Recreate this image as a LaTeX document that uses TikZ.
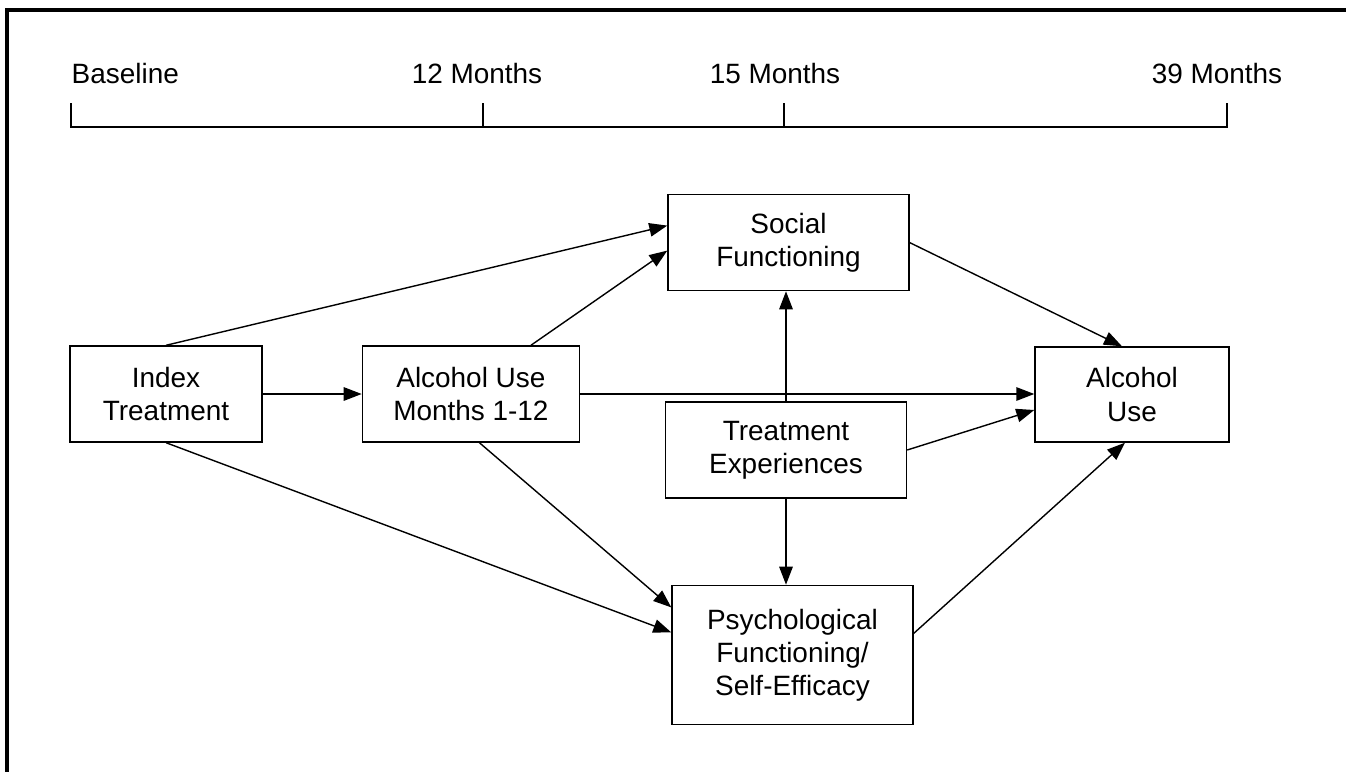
\documentclass[tikz,border=0pt]{standalone}
\usepackage{fontspec}
\setmainfont{Liberation Sans}
\usetikzlibrary{positioning,arrows.meta}

\begin{document}
\begin{tikzpicture}[->,>={Triangle[length=3.6mm,width=2.7mm]},line width=0.8pt,
    font=\fontsize{15.9}{18.8}\selectfont,
    box/.style={draw,rectangle,align=center,inner sep=0pt,minimum width=3.84cm,minimum height=1.92cm},
    wide box/.style={box,minimum width=4.82cm},
    time label/.style={anchor=base,inner sep=0pt}]

    \useasboundingbox (0,0) rectangle (26.92,-15.44);
    % frame, cut off at right and bottom
    \draw[-,line width=2.2pt] (0.14,-15.6) |- (27.1,-0.2);

    % time line
    \node[time label,anchor=base west] (base) at (1.42,-1.66) {Baseline};
    \node[time label] (m12) at (9.54,-1.66) {12 Months};
    \node[time label] (m15) at (15.5,-1.66) {15 Months};
    \node[time label] (m39) at (24.34,-1.66) {39 Months};
    \draw[-] (1.42,-2.06) |- (24.54,-2.54) -- (24.54,-2.06);
    \foreach \x in {9.66,15.68}
        \draw[-] (\x,-2.06) -- (\x,-2.54);

    % boxes
    \node[box] (index) at (3.32,-7.88) {Index\\Treatment};
    \node[box,minimum width=4.34cm] (alcm) [right=1.98cm of index] {Alcohol Use\\Months 1-12};
    \node[wide box] (treat) at (15.72,-9.0) {Treatment\\Experiences};
    \node[wide box] (social) [above=2.2cm of treat,xshift=0.05cm] {Social\\Functioning};
    \node[wide box,minimum height=2.78cm] (psych) [below=1.72cm of treat,xshift=0.13cm] {Psychological\\Functioning/\\Self-Efficacy};
    \node[box,minimum width=3.88cm,minimum height=1.9cm] (alcr) at (22.64,-7.89) {Alcohol\\Use};

    % paths
    \draw (index.east) -- (alcm.west);
    \draw (index.north) -- ([yshift=0.34cm]social.west);
    \draw (index.south) -- ([yshift=0.45cm]psych.west);
    \draw ([xshift=1.2cm]alcm.north) -- ([yshift=-0.16cm]social.west);
    \draw ([xshift=0.17cm]alcm.south) -- ([yshift=0.95cm]psych.west);
    \draw (alcm.east) -- (alcm.east -| alcr.west);
    \draw (treat.north) -- (treat.north |- social.south);
    \draw (treat.south) -- (treat.south |- psych.north);
    \draw (treat.east) -- ([yshift=-0.31cm]alcr.west);
    \draw (social.east) -- ([xshift=-0.2cm]alcr.north);
    \draw ([yshift=0.43cm]psych.east) -- ([xshift=-0.14cm]alcr.south);

\end{tikzpicture}
\end{document}
